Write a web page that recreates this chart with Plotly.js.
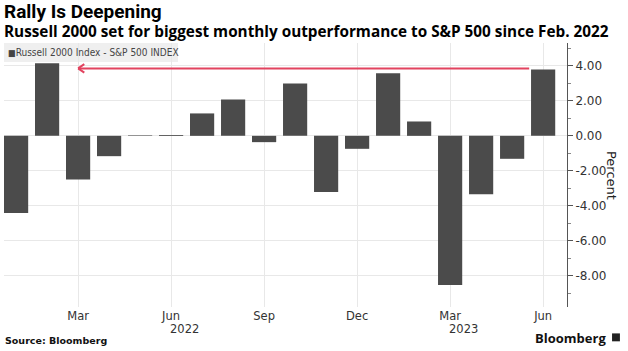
<!DOCTYPE html>
<html>
<head>
<meta charset="utf-8">
<script src="https://cdn.plot.ly/plotly-3.0.1.min.js"></script>
<style>
html,body{margin:0;padding:0;background:#fff;}
#chart{width:628px;height:351px;}
</style>
</head>
<body>
<div id="chart"></div>
<script>
const months = ['Jan 2022','Feb 2022','Mar 2022','Apr 2022','May 2022','Jun 2022','Jul 2022','Aug 2022','Sep 2022','Oct 2022','Nov 2022','Dec 2022',
                'Jan 2023','Feb 2023','Mar 2023','Apr 2023','May 2023','Jun 2023'];
const spread = [-4.40, 4.14, -2.49, -1.16, 0.03, 0.05, 1.28, 2.08, -0.36, 2.99, -3.20, -0.74,
                3.57, 0.82, -8.51, -3.33, -1.31, 3.79];
const tickMonths = ['Mar 2022','Jun 2022','Sep 2022','Dec 2022','Mar 2023','Jun 2023'];
const tickLabels = ['Mar','Jun','Sep','Dec','Mar','Jun'];
const yearMonths = ['Jun 2022','Mar 2023'];
const yearLabels = ['2022','2023'];
const yTicks = [4, 2, 0, -2, -4, -6, -8];
const seriesName = 'Russell 2000 Index - S&P 500 INDEX';
// arrow: from (index, value) to (index, value)
const arrowFrom = [16.55, 3.85];
const arrowTo = [2.0, 3.85];

const red = '#e2435f';
const shapes = [
  {type:'line', xref:'x', yref:'y', x0:arrowFrom[0], y0:arrowFrom[1], x1:arrowTo[0], y1:arrowTo[1], line:{color:red, width:2}},
  {type:'line', xref:'x', yref:'y', x0:arrowTo[0], y0:arrowTo[1], x1:arrowTo[0]+0.2, y1:arrowTo[1]+0.24, line:{color:red, width:2}},
  {type:'line', xref:'x', yref:'y', x0:arrowTo[0], y0:arrowTo[1], x1:arrowTo[0]+0.2, y1:arrowTo[1]-0.24, line:{color:red, width:2}},
  // legend box background
  {type:'rect', xref:'paper', yref:'paper', x0:0, x1:0.309, y0:0.928, y1:1.0, fillcolor:'#efefef', line:{width:0}, layer:'below'},
  // Bloomberg icon
  {type:'rect', xref:'paper', yref:'paper', x0:1.080, x1:1.094, y0:-0.130, y1:-0.100, fillcolor:'#222', line:{width:0}}
];

const annotations = [
  {xref:'paper', yref:'paper', x:-0.004, y:1.118, xanchor:'left', yanchor:'middle', text:'<b>Rally Is Deepening</b>', showarrow:false,
   font:{family:'Roboto', size:19, color:'#000'}},
  {xref:'paper', yref:'paper', x:-0.004, y:1.045, xanchor:'left', yanchor:'middle', text:'<b>Russell 2000 set for biggest monthly outperformance to S&P 500 since Feb. 2022</b>', showarrow:false,
   font:{family:'Open Sans', size:15.3, color:'#000'}},
  {xref:'paper', yref:'paper', x:0.003, y:0.964, xanchor:'left', yanchor:'middle', text:'<span style="font-size:9px">■</span>' + seriesName, showarrow:false,
   font:{family:'DejaVu Sans Condensed', size:10, color:'#444'}},
  {xref:'paper', yref:'paper', x:1.08, y:0.5, xanchor:'center', text:'Percent', textangle:90, showarrow:false,
   font:{family:'DejaVu Sans', size:13, color:'#222'}},
  {xref:'paper', yref:'paper', x:-0.001, y:-0.128, xanchor:'left', yanchor:'middle', text:'<b>Source: Bloomberg</b>', showarrow:false,
   font:{family:'DejaVu Sans', size:9.5, color:'#111'}},
  {xref:'paper', yref:'paper', x:1.072, y:-0.117, xanchor:'right', yanchor:'middle', text:'<b>Bloomberg</b>', showarrow:false,
   font:{family:'Open Sans', size:13, color:'#111'}}
];
yearMonths.forEach((m, i) => {
  annotations.push({xref:'x', yref:'paper', x:m, y:-0.083, yanchor:'middle', xshift:13, text:yearLabels[i], showarrow:false,
    font:{family:'DejaVu Sans', size:11.5, color:'#333'}});
});

const data = [{
  type:'bar', x:months, y:spread, name:seriesName,
  marker:{color:'#4b4b4b', line:{width:0}}, width:0.78, hoverinfo:'x+y'
}];

const layout = {
  width:628, height:351,
  margin:{l:4, r:61, t:43, b:44},
  paper_bgcolor:'#fff', plot_bgcolor:'#fff',
  showlegend:false,
  bargap:0.22,
  xaxis:{
    type:'category', categoryorder:'array', categoryarray:months,
    range:[-0.39, 17.77],
    tickmode:'array', tickvals:tickMonths, ticktext:tickLabels,
    showgrid:true, gridcolor:'#e8e8e8', gridwidth:1,
    showline:false, zeroline:false, ticks:'',
    tickfont:{family:'DejaVu Sans', size:11.5, color:'#333'}
  },
  yaxis:{
    side:'right', range:[-9.77, 5.3],
    tickmode:'array', tickvals:yTicks, ticktext:yTicks.map(v => v.toFixed(2)),
    showgrid:true, gridcolor:'#e8e8e8', gridwidth:1,
    zeroline:false, showline:true, linecolor:'#555', linewidth:1,
    ticks:'outside', ticklen:5, tickcolor:'#555', tickwidth:1,
    minor:{dtick:1, tick0:1, ticks:'outside', ticklen:3, tickcolor:'#888', showgrid:false},
    tickfont:{family:'DejaVu Sans', size:12, color:'#333'}
  },
  shapes:shapes,
  annotations:annotations
};

Plotly.newPlot('chart', data, layout, {displayModeBar:false, staticPlot:true});
</script>
</body>
</html>
